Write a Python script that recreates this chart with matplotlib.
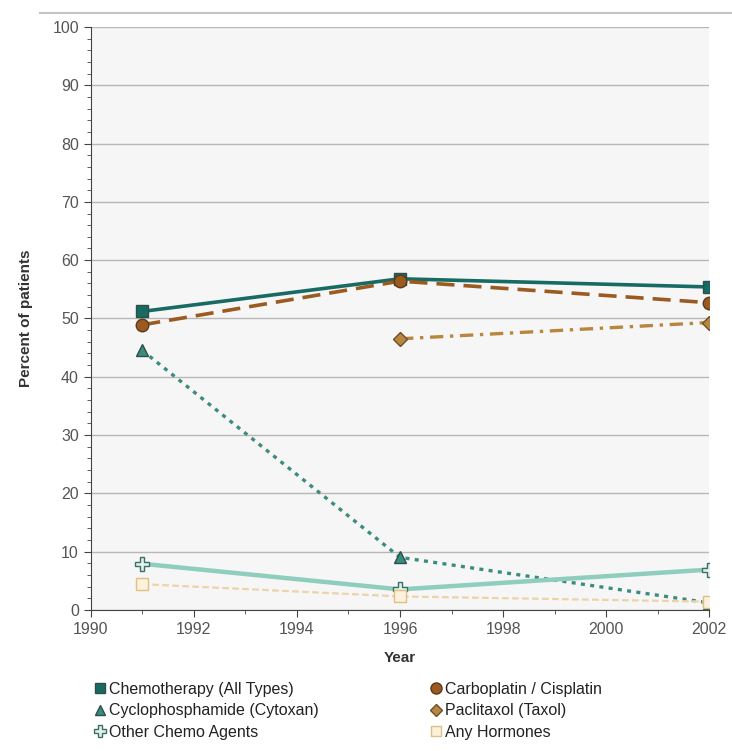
import matplotlib.pyplot as plt
from matplotlib.lines import Line2D
from matplotlib.ticker import MultipleLocator

plt.rcParams['font.family'] = ['Liberation Sans', 'DejaVu Sans']

years = [1991, 1996, 2002]
chemo_all = [51.2, 56.8, 55.4]
carbo_cis = [48.9, 56.4, 52.7]
cyclophosphamide = [44.5, 9.0, 1.2]
paclitaxol = [None, 46.5, 49.3]
other_chemo = [7.9, 3.5, 6.9]
any_hormones = [4.4, 2.3, 1.4]

series = [
    # label, values, color, linestyle, lw, marker, marker face, marker edge, marker size
    ('Chemotherapy (All Types)', chemo_all, '#176b62', '-', 2.6, 's', '#176b62', '#2d4f4a', 8),
    ('Cyclophosphamide (Cytoxan)', cyclophosphamide, '#3b8c7e', (0, (1.2, 1.6)), 2.4, '^', '#3b8c7e', '#2d4f4a', 8),
    ('Other Chemo Agents', other_chemo, '#8fcdbd', '-', 3.2, 'P', '#dff2ec', '#3b6f66', 10),
    ('Carboplatin / Cisplatin', carbo_cis, '#9a5a20', (0, (5, 2.5)), 2.6, 'o', '#9a5a20', '#5a3a1a', 9),
    ('Paclitaxol (Taxol)', paclitaxol, '#b8863e', (0, (4, 2, 1, 2)), 2.4, 'D', '#b8863e', '#6a4f2a', 7.5),
    ('Any Hormones', any_hormones, '#ecd3a8', (0, (3, 1.5)), 1.6, 's', '#fbf1dc', '#e0bf80', 8),
]
draw_order = [5, 2, 1, 4, 3, 0]

fig = plt.figure(figsize=(7.32, 7.51), dpi=100)
ax = fig.add_axes([0.124, 0.188, 0.845, 0.776])
ax.set_facecolor('#f6f6f6')

for i in draw_order:
    label, vals, color, ls, lw, mk, mfc, mec, ms = series[i]
    xs = [x for x, v in zip(years, vals) if v is not None]
    ys = [v for v in vals if v is not None]
    ax.plot(xs, ys, color=color, linestyle=ls, linewidth=lw, marker=mk,
            markerfacecolor=mfc, markeredgecolor=mec,
            markeredgewidth=1.0, markersize=ms, zorder=3 + i)

ax.set_xlim(1990, 2002)
ax.set_ylim(0, 100)
ax.xaxis.set_major_locator(MultipleLocator(2))
ax.xaxis.set_minor_locator(MultipleLocator(1))
ax.yaxis.set_major_locator(MultipleLocator(10))
ax.yaxis.set_minor_locator(MultipleLocator(2))
ax.grid(axis='y', which='major', color='#b8b8b8', linewidth=1.0)
ax.set_axisbelow(True)
for s in ['top', 'right']:
    ax.spines[s].set_visible(False)
for s in ['left', 'bottom']:
    ax.spines[s].set_color('#444444')
ax.tick_params(which='major', length=5, color='#444444', labelsize=11.5, labelcolor='#555555')
ax.tick_params(which='minor', length=3, color='#444444')
ax.set_xlabel('Year', fontsize=11, fontweight='bold', color='#333333', labelpad=10)
ax.set_ylabel('Percent of patients', fontsize=11, fontweight='bold', color='#333333', labelpad=14)

handles = []
for label, vals, color, ls, lw, mk, mfc, mec, ms in series:
    handles.append(Line2D([], [], linestyle='none', marker=mk, color=color,
                          markerfacecolor=mfc, markeredgecolor=mec, markersize=ms - 1, label=label))
fig.legend(handles=handles, ncol=2, loc='upper left', bbox_to_anchor=(0.11, 0.111),
           frameon=False, fontsize=11.5, handlelength=0.6, handletextpad=0.3,
           columnspacing=7.0, labelspacing=0.4, labelcolor='#222222')

fig.add_artist(Line2D([0.055, 1.0], [0.983, 0.983], color='#c4c4c4', linewidth=1.5))

fig.savefig('out.png', dpi=100)
